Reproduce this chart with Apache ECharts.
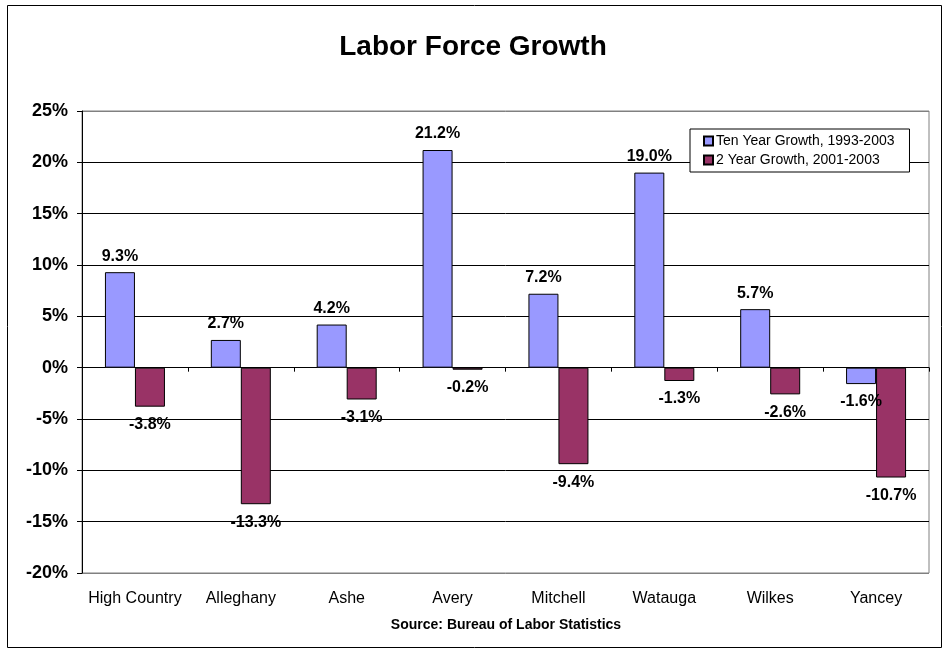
<!DOCTYPE html>
<html>
<head>
<meta charset="utf-8">
<script src="https://cdn.jsdelivr.net/npm/echarts@6/dist/echarts.min.js"></script>
<style>
  html, body { margin: 0; padding: 0; background: #fff; }
  #chart { width: 943px; height: 648px; }
</style>
</head>
<body>
<div id="chart"></div>
<script>
// Counties and growth rates (percent)
const counties = ['High Country', 'Alleghany', 'Ashe', 'Avery', 'Mitchell', 'Watauga', 'Wilkes', 'Yancey'];
const tenYear = [9.3, 2.7, 4.2, 21.2, 7.2, 19.0, 5.7, -1.6];
const twoYear = [-3.8, -13.3, -3.1, -0.2, -9.4, -1.3, -2.6, -10.7];
const seriesNames = ['Ten Year Growth, 1993-2003', '2 Year Growth, 2001-2003'];
const yTicks = { min: -20, max: 25, step: 5 };

const FONT = 'Liberation Sans, Arial, sans-serif';

// Labels sit above positive bars and below negative ones
function withLabels(values) {
  return values.map(v => ({
    value: v,
    label: { position: v < 0 ? 'bottom' : 'top', distance: v < 0 ? 10 : 8 }
  }));
}

const chart = echarts.init(document.getElementById('chart'), null, { renderer: 'canvas' });

const barLabel = {
  show: true,
  fontFamily: FONT,
  fontWeight: 'bold',
  fontSize: 16,
  color: '#000',
  formatter: p => p.value.toFixed(1) + '%'
};

chart.setOption({
  backgroundColor: '#fff',
  animation: false,
  title: {
    text: 'Labor Force Growth',
    left: 468,
    textAlign: 'center',
    top: 28,
    textStyle: { fontFamily: FONT, fontWeight: 'bold', fontSize: 28, color: '#000' }
  },
  legend: {
    orient: 'vertical',
    left: 690,
    top: 129,
    itemWidth: 9,
    itemHeight: 9,
    itemGap: 5,
    padding: [5, 15, 5, 13],
    backgroundColor: '#fff',
    borderColor: '#000',
    borderWidth: 1,
    borderRadius: 0,
    icon: 'rect',
    textStyle: { fontFamily: FONT, fontSize: 14, color: '#000', padding: [0, 0, 0, -2] },
    data: seriesNames
  },
  grid: {
    left: 82,
    right: 14,
    top: 111,
    bottom: 75,
    show: true,
    borderColor: '#808080',
    borderWidth: 1
  },
  xAxis: [
    {
      type: 'category',
      data: counties,
      axisLine: { onZero: true, lineStyle: { color: '#000', width: 1 } },
      axisTick: { show: true, inside: false, length: 4, alignWithLabel: false, lineStyle: { color: '#000' } },
      axisLabel: { show: false },
      splitLine: { show: false }
    },
    {
      type: 'category',
      data: counties,
      position: 'bottom',
      axisLine: { show: false, onZero: false },
      axisTick: { show: false },
      axisLabel: { show: true, interval: 0, margin: 18, fontFamily: FONT, fontSize: 16, color: '#000' },
      splitLine: { show: false }
    }
  ],
  yAxis: {
    type: 'value',
    min: yTicks.min,
    max: yTicks.max,
    interval: yTicks.step,
    axisLine: { show: true, lineStyle: { color: '#000', width: 1 } },
    axisTick: { show: true, inside: false, length: 5, lineStyle: { color: '#000' } },
    axisLabel: {
      margin: 14,
      fontFamily: FONT,
      fontWeight: 'bold',
      fontSize: 18,
      color: '#000',
      formatter: v => v + '%'
    },
    splitLine: {
      show: true,
      lineStyle: {
        color: ['#808080', '#000', '#000', '#000', '#000', '#000', '#000', '#000', '#000', '#808080'],
        width: 1
      }
    }
  },
  series: [
    {
      name: seriesNames[0],
      type: 'bar',
      xAxisIndex: 0,
      data: withLabels(tenYear),
      barWidth: 30,
      barGap: '0%',
      itemStyle: { color: '#9999FF', borderColor: '#000', borderWidth: 1 },
      label: barLabel
    },
    {
      name: seriesNames[1],
      type: 'bar',
      xAxisIndex: 0,
      data: withLabels(twoYear),
      barWidth: 30,
      barGap: '0%',
      itemStyle: { color: '#993366', borderColor: '#000', borderWidth: 1 },
      label: barLabel
    }
  ],
  graphic: [
    {
      type: 'rect',
      left: 5,
      top: 3,
      shape: { width: 934, height: 642 },
      style: { fill: 'none', stroke: '#000', lineWidth: 1 },
      silent: true,
      z: -10
    },
    {
      type: 'text',
      x: 506,
      y: 625,
      style: {
        text: 'Source: Bureau of Labor Statistics',
        align: 'center',
        verticalAlign: 'middle',
        fontFamily: FONT,
        fontWeight: 'bold',
        fontSize: 14,
        fill: '#000'
      }
    }
  ]
});
</script>
</body>
</html>
